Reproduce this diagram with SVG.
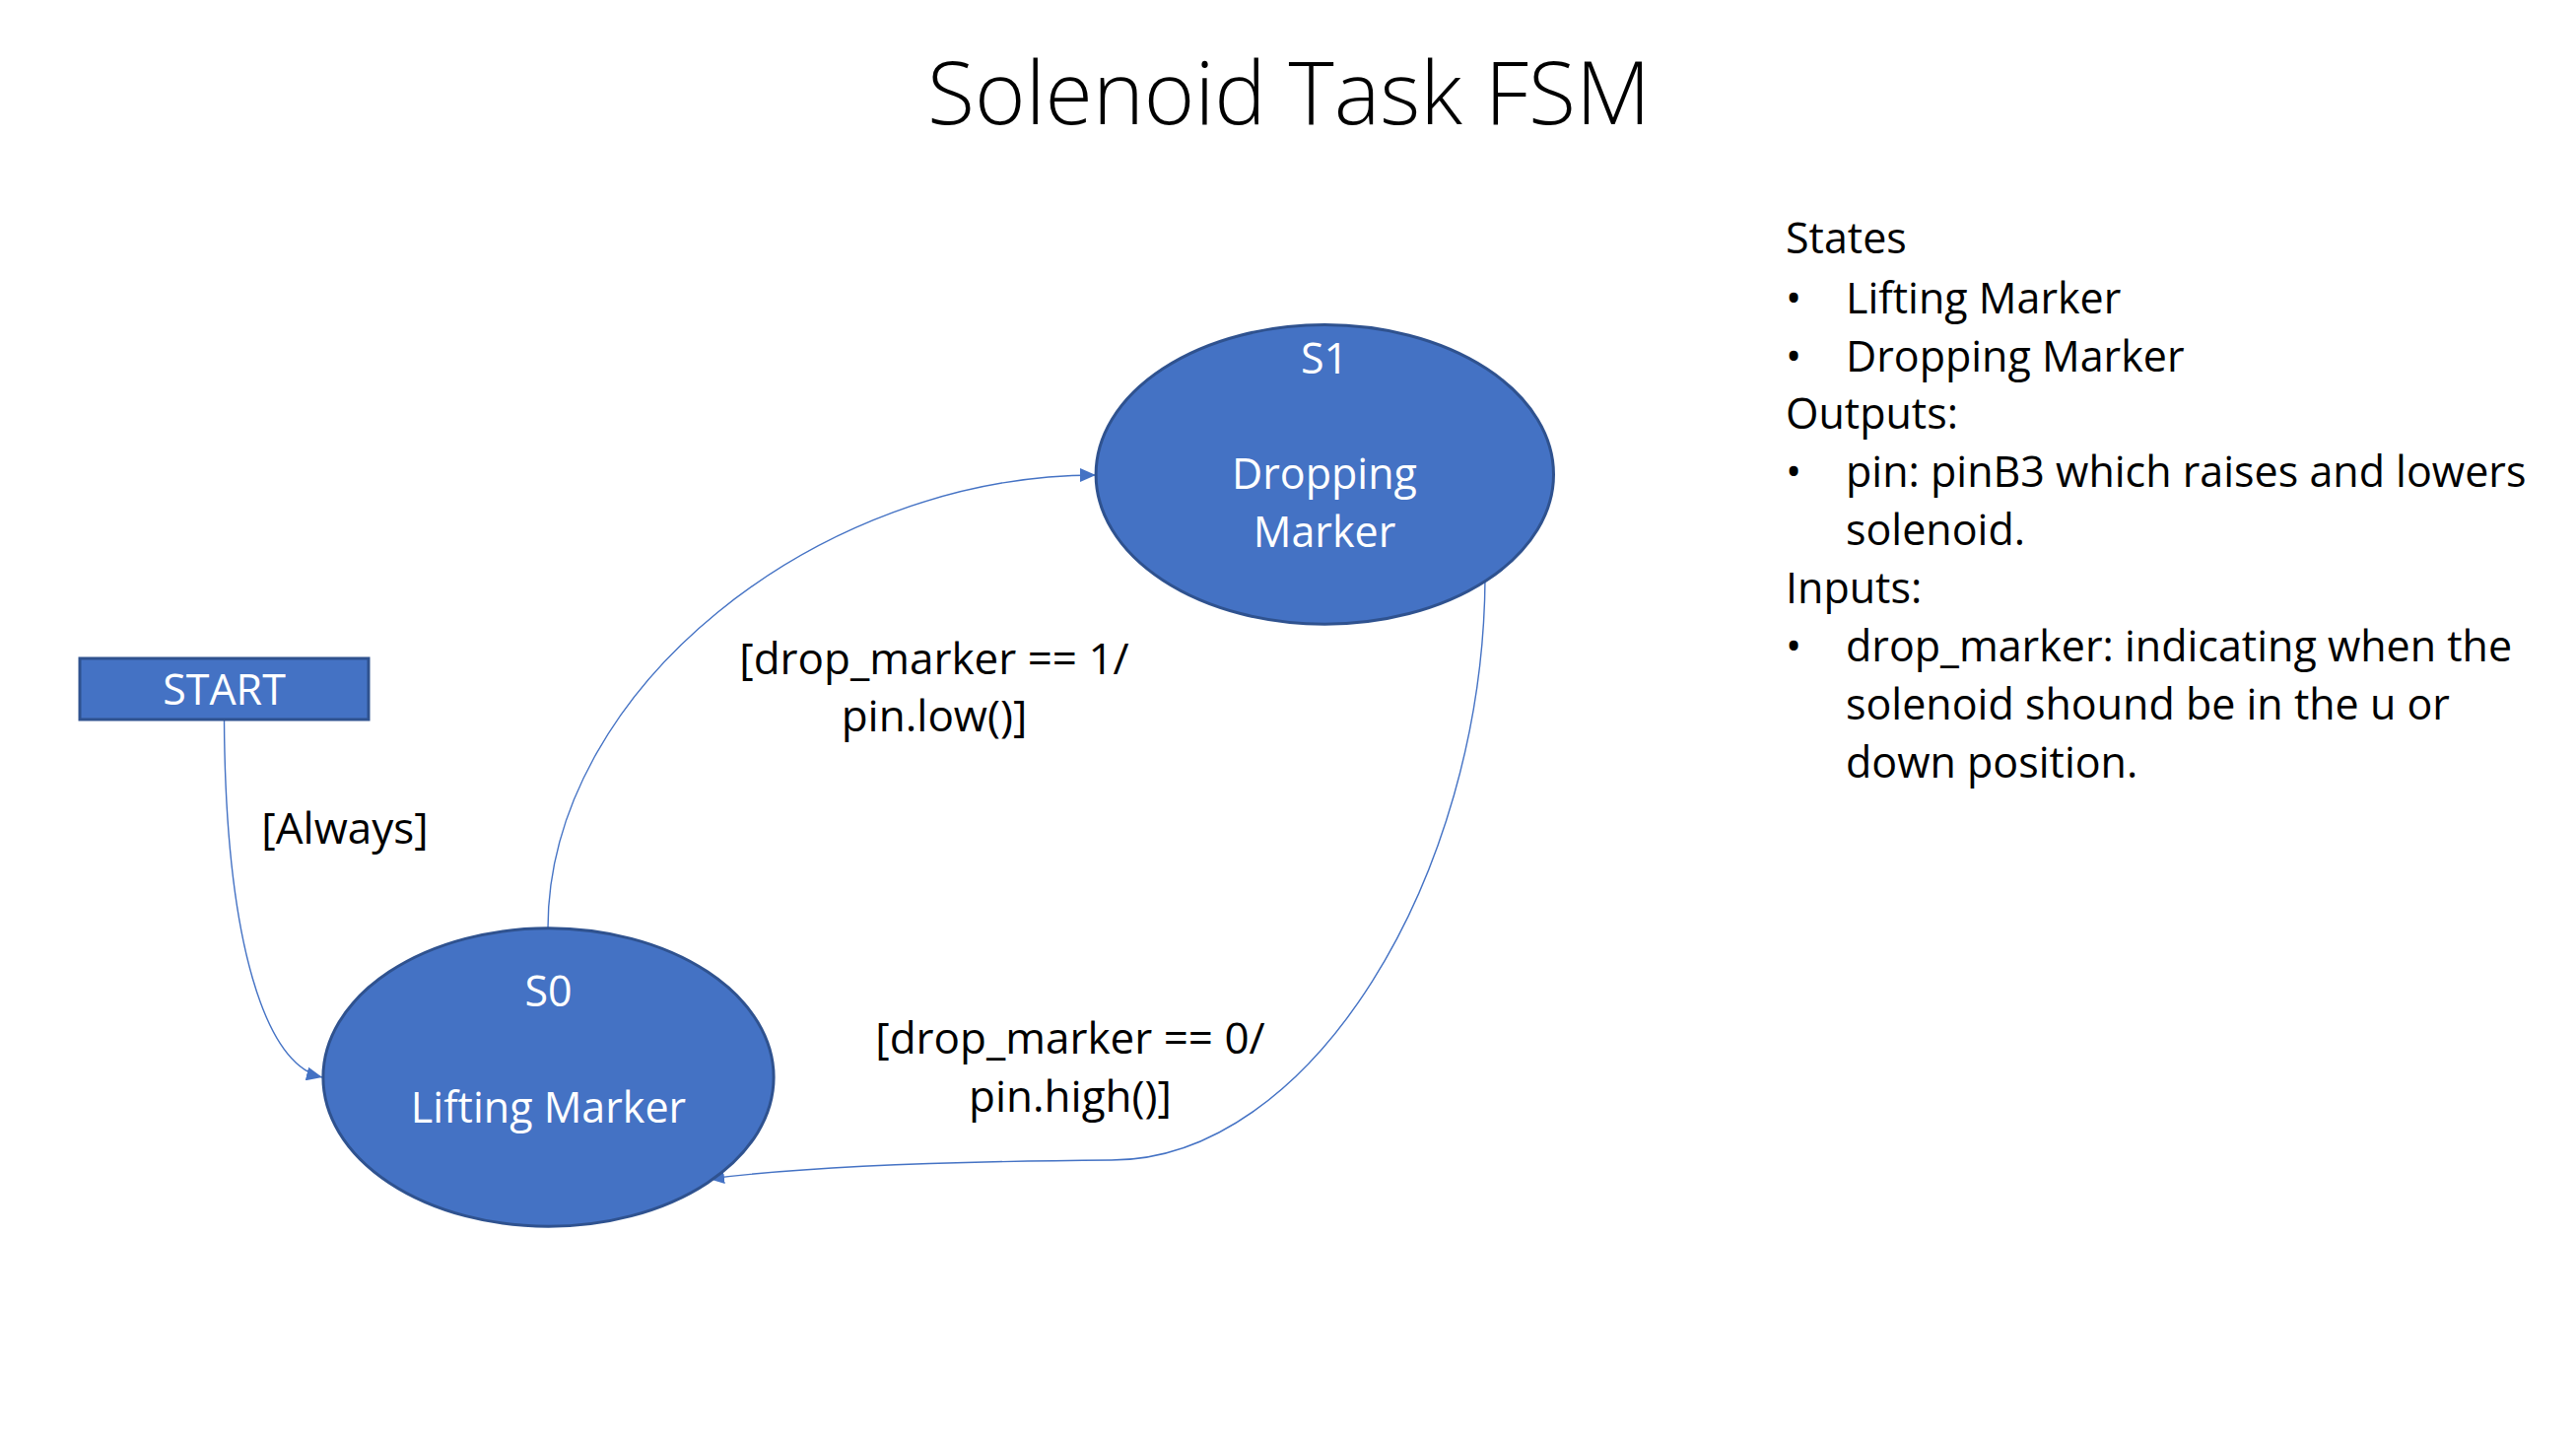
<svg xmlns="http://www.w3.org/2000/svg" width="2614" height="1462" viewBox="0 0 2614 1462">
<defs>
<style>
text{font-family:"Open Sans","Liberation Sans",sans-serif;font-size:43px;fill:#000}
.title{font-size:88px;font-weight:300;text-anchor:middle}
.node{fill:#4472C4;stroke:#2F528F;stroke-width:3}
.nt{fill:#fff;text-anchor:middle}
.lbl{text-anchor:middle;font-size:44px}
.conn{fill:none;stroke:#4472C4;stroke-width:1.4}
</style>
<marker id="arr" viewBox="0 0 16 14" refX="16" refY="7" markerWidth="16" markerHeight="14" markerUnits="userSpaceOnUse" orient="auto">
<path d="M0,0 L16,7 L0,14 Z" fill="#4472C4"/>
</marker>
</defs>
<rect width="2614" height="1462" fill="#fff"/>
<text class="title" x="1308" y="126">Solenoid Task FSM</text>

<g id="connectors">
<path class="conn" d="M227.5,731 C229,960 270,1080 327,1093" marker-end="url(#arr)"/>
<path class="conn" d="M556,942 C556,700 830,482 1112,482" marker-end="url(#arr)"/>
<path class="conn" d="M1507,587 C1505,890 1330,1177 1128,1177 C1000,1178 830,1182 719,1196" marker-end="url(#arr)"/>
<text class="lbl" x="350" y="856">[Always]</text>
<text class="lbl" x="948" y="684">[drop_marker == 1/</text>
<text class="lbl" x="948" y="742">pin.low()]</text>
<text class="lbl" x="1086" y="1069">[drop_marker == 0/</text>
<text class="lbl" x="1086" y="1128">pin.high()]</text>
</g>

<g id="start">
<rect class="node" x="81" y="668" width="293" height="62"/>
<text class="nt" x="227.5" y="715">START</text>
</g>

<g id="s0">
<ellipse class="node" cx="556.5" cy="1093" rx="228.6" ry="151.2"/>
<text class="nt" x="556.5" y="1021">S0</text>
<text class="nt" x="556.5" y="1139">Lifting Marker</text>
</g>

<g id="s1">
<ellipse class="node" cx="1344.3" cy="481.4" rx="232.2" ry="151.8"/>
<text class="nt" x="1344" y="379">S1</text>
<text class="nt" x="1344" y="496">Dropping</text>
<text class="nt" x="1344" y="555">Marker</text>
</g>

<g id="legend">
<text x="1812" y="257">States</text>
<text x="1812" y="318">•</text><text x="1873" y="318">Lifting Marker</text>
<text x="1812" y="377">•</text><text x="1873" y="377">Dropping Marker</text>
<text x="1812" y="435">Outputs:</text>
<text x="1812" y="494">•</text><text x="1873" y="494">pin: pinB3 which raises and lowers</text>
<text x="1873" y="553">solenoid.</text>
<text x="1812" y="612">Inputs:</text>
<text x="1812" y="671">•</text><text x="1873" y="671">drop_marker: indicating when the</text>
<text x="1873" y="730">solenoid shound be in the u or</text>
<text x="1873" y="789">down position.</text>
</g>
</svg>
